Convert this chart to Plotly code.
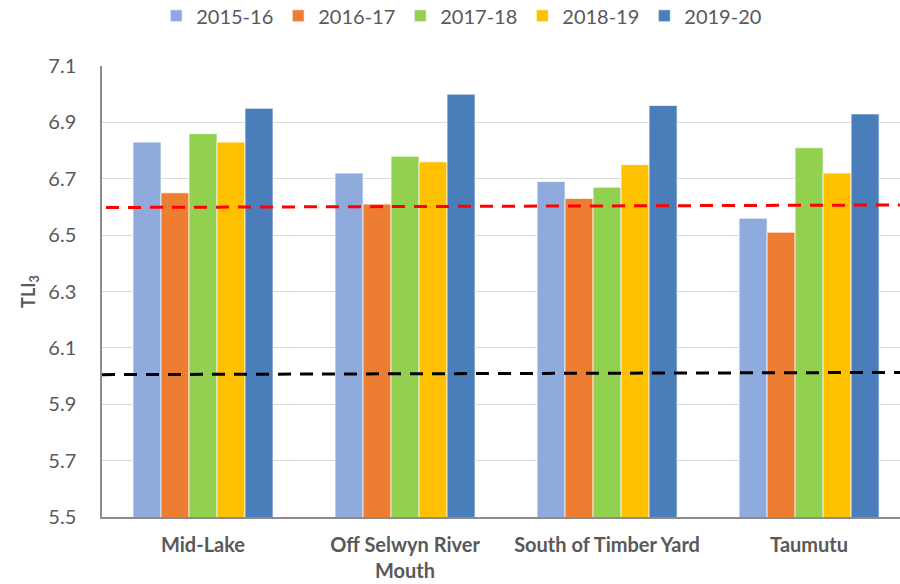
import plotly.graph_objects as go

categories = ["Mid-Lake", "Off Selwyn River<br>Mouth", "South of Timber Yard", "Taumutu"]
series_names = ["2015-16", "2016-17", "2017-18", "2018-19", "2019-20"]
v_2015_16 = [6.83, 6.72, 6.69, 6.56]
v_2016_17 = [6.65, 6.61, 6.63, 6.51]
v_2017_18 = [6.86, 6.78, 6.67, 6.81]
v_2018_19 = [6.83, 6.76, 6.75, 6.72]
v_2019_20 = [6.95, 7.00, 6.96, 6.93]
series_values = [v_2015_16, v_2016_17, v_2017_18, v_2018_19, v_2019_20]
colors = ["#8FAADC", "#ED7D31", "#92D050", "#FFC000", "#4A7EBB"]

red_line = [6.598, 6.607]
black_line = [6.005, 6.013]

y_ticks = [5.5, 5.7, 5.9, 6.1, 6.3, 6.5, 6.7, 6.9, 7.1]

font_family = "Lato, 'Open Sans', sans-serif"
txt = "#595959"

fig = go.Figure()
for name, vals, c in zip(series_names, series_values, colors):
    fig.add_trace(go.Bar(
        x=categories, y=vals, name=name,
        marker=dict(color=c, line=dict(color="rgba(255,255,255,0.7)", width=1)),
    ))

fig.add_shape(type="line", xref="paper", yref="y", x0=0.005, x1=1,
              y0=red_line[0], y1=red_line[1],
              line=dict(color="#FF0000", width=3, dash="13px,9px"))
fig.add_shape(type="line", xref="paper", yref="y", x0=0.0, x1=1,
              y0=black_line[0], y1=black_line[1],
              line=dict(color="#000000", width=3, dash="13px,9px"))

fig.update_layout(
    width=900, height=584,
    margin=dict(l=102, r=0, t=66, b=67, autoexpand=False),
    paper_bgcolor="white", plot_bgcolor="white",
    barmode="group", bargap=0.307, bargroupgap=0,
    font=dict(family=font_family, color=txt, size=19),
    legend=dict(orientation="h", xref="container", yref="container",
                x=0.513, xanchor="center", y=0.973, yanchor="middle",
                font=dict(size=20, color=txt), itemwidth=30,
                traceorder="normal"),
    showlegend=True,
)
fig.update_xaxes(
    range=[-0.5, 3.45],
    showline=True, linecolor="#8c8c8c", linewidth=1.5,
    tickfont=dict(size=20, color=txt, family=font_family, weight="bold"),
    ticks="", ticklabelstandoff=9,
)
fig.update_yaxes(
    range=[5.5, 7.1], tickvals=y_ticks, tickformat=".1f",
    showgrid=True, gridcolor="#d9d9d9", gridwidth=1,
    showline=True, linecolor="#8c8c8c", linewidth=1.5,
    zeroline=False,
    tickfont=dict(size=20, color=txt),
    ticks="", ticklabelstandoff=20,
    title=dict(text="TLI<sub>3</sub>", font=dict(size=18, color=txt, weight="bold"), standoff=8),
)

fig.write_html(
    "out.html",
    config={"displayModeBar": False},
    post_script="document.body.style.margin='0';document.body.style.overflow='hidden';",
)
